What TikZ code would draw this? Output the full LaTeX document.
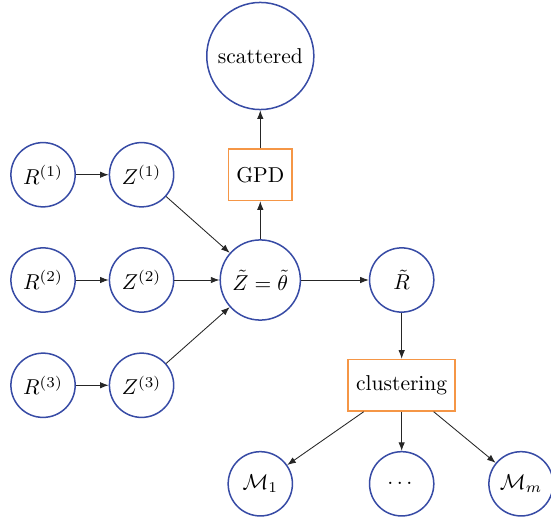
\documentclass[tikz,border=0pt]{standalone}
\usepackage{amsmath}
\usetikzlibrary{arrows.meta}
\definecolor{nodeblue}{RGB}{55,75,165}
\definecolor{boxorange}{RGB}{245,150,70}
\tikzset{
    var/.style={draw=nodeblue, line width=0.7pt, circle, inner sep=0pt, minimum size=#1},
    var/.default={1.05cm},
    proc/.style={draw=boxorange, line width=0.7pt, rectangle, inner xsep=3.7pt, minimum height=0.84cm},
    flow/.style={-{Latex[length=4pt,width=3pt]}, black!85}
}

\begin{document}
\begin{tikzpicture}
    \def \dy {1.72}
    \useasboundingbox (-0.703,-3.97) rectangle (8.30,4.575);
    % inputs and their latent codes
    \foreach \s in {1,2,3}{
    \node[var] (r\s) at (0, {(2-\s)*\dy}) {$R^{(\s)}$};
    \node[var] (z\s) at (1.61, {(2-\s)*\dy}) {$Z^{(\s)}$};}
    \node[var=1.31cm] (zt) at (3.55, 0) {$\tilde{Z} = \tilde{\theta}$};
    \node[proc] (gpd) at (3.55, \dy) {GPD};
    \node[var=1.75cm] (sc) at (3.55, 3.66) {scattered};
    \node[var] (rt) at (5.86, 0) {$\tilde{R}$};
    \node[proc] (cl) at (5.86, -\dy) {clustering};
    % resulting models
    \node[var] (m1) at (3.55, -3.33) {$\mathcal{M}_1$};
    \node[var] (md) at (5.86, -3.33) {$\dots$};
    \node[var] (mm) at (7.81, -3.33) {$\mathcal{M}_m$};
    \foreach \s in {1,2,3}{
    \draw[flow] (r\s) -- (z\s);
    \draw[flow] (z\s) -- (zt);}
    \draw[flow] (zt) -- (gpd);
    \draw[flow] (gpd) -- (sc);
    \draw[flow] (zt) -- (rt);
    \draw[flow] (rt) -- (cl);
    \draw[flow] (cl) -- (m1);
    \draw[flow] (cl) -- (md);
    \draw[flow] (cl) -- (mm);
\end{tikzpicture}
\end{document}
